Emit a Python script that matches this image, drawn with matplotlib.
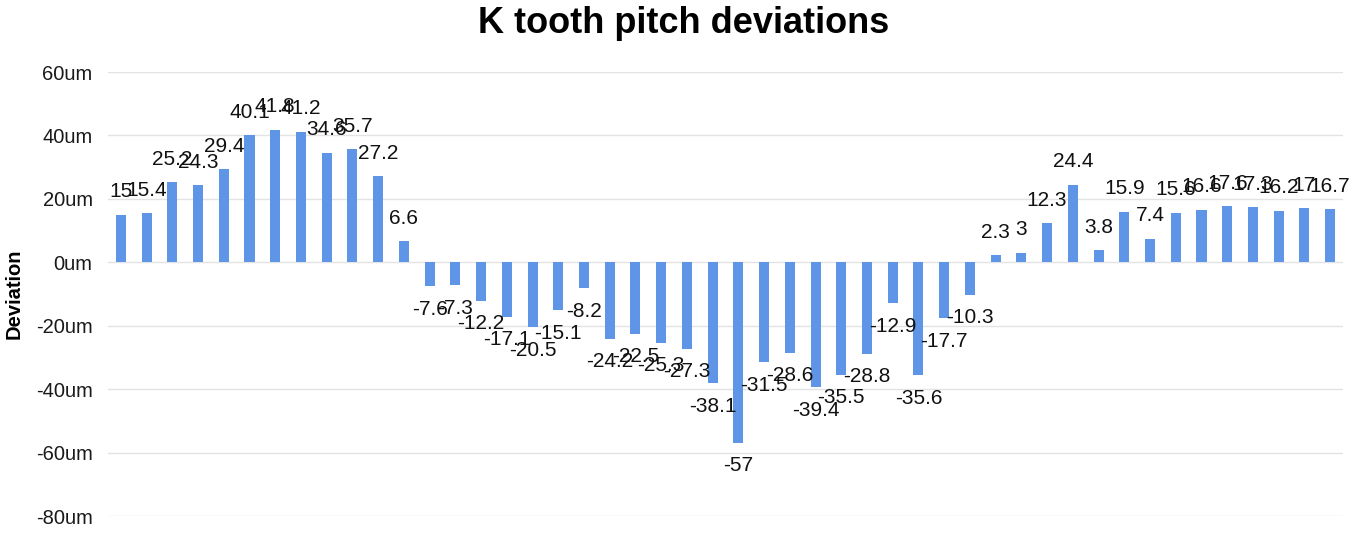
import numpy as np
import matplotlib
matplotlib.use("Agg")
import matplotlib.pyplot as plt

# tooth index 1..48, pitch deviation in um
teeth = list(range(1, 49))
deviation = [15, 15.4, 25.2, 24.3, 29.4, 40.1, 41.8, 41.2, 34.6, 35.7, 27.2, 6.6,
             -7.6, -7.3, -12.2, -17.1, -20.5, -15.1, -8.2, -24.2, -22.5, -25.3, -27.3, -38.1,
             -57, -31.5, -28.6, -39.4, -35.5, -28.8, -12.9, -35.6, -17.7, -10.3, 2.3, 3,
             12.3, 24.4, 3.8, 15.9, 7.4, 15.6, 16.6, 17.6, 17.3, 16.2, 17, 16.7]
yticks = [-80, -60, -40, -20, 0, 20, 40, 60]
ytick_labels = [f"{v}um" for v in yticks]

plt.rcParams["font.family"] = ["Liberation Sans", "DejaVu Sans"]

fig = plt.figure(figsize=(13.67, 5.42), dpi=100)
ax = fig.add_axes([108 / 1367, 26 / 542, 1235 / 1367, 444 / 542])

x = np.arange(len(teeth))
ax.bar(x, deviation, width=0.39, color="#5e95e6", zorder=2)

for xi, v in zip(x, deviation):
    off = 16.5 if v >= 0 else -16.5
    ax.annotate(f"{v:g}", (xi, v), xytext=(0, off), textcoords="offset points",
                ha="center", va="center", fontsize=15, color="#111111")

ax.set_xlim(-0.5, len(teeth) - 0.5)
ax.set_ylim(-80, 60)
ax.set_yticks(yticks)
ax.set_yticklabels(ytick_labels, fontsize=14.5, color="#1a1a1a")
ax.set_xticks([])
ax.grid(axis="y", color="#e3e3e3", linewidth=1, zorder=0)
ax.tick_params(axis="y", length=0, pad=11)
for s in ax.spines.values():
    s.set_visible(False)

ax.set_ylabel("Deviation", fontsize=14.5, fontweight="bold", labelpad=9)
fig.text(0.5, 0.956, "K tooth pitch deviations", ha="center", va="center",
         fontsize=26, fontweight="bold")

fig.savefig("out.png", dpi=100)
